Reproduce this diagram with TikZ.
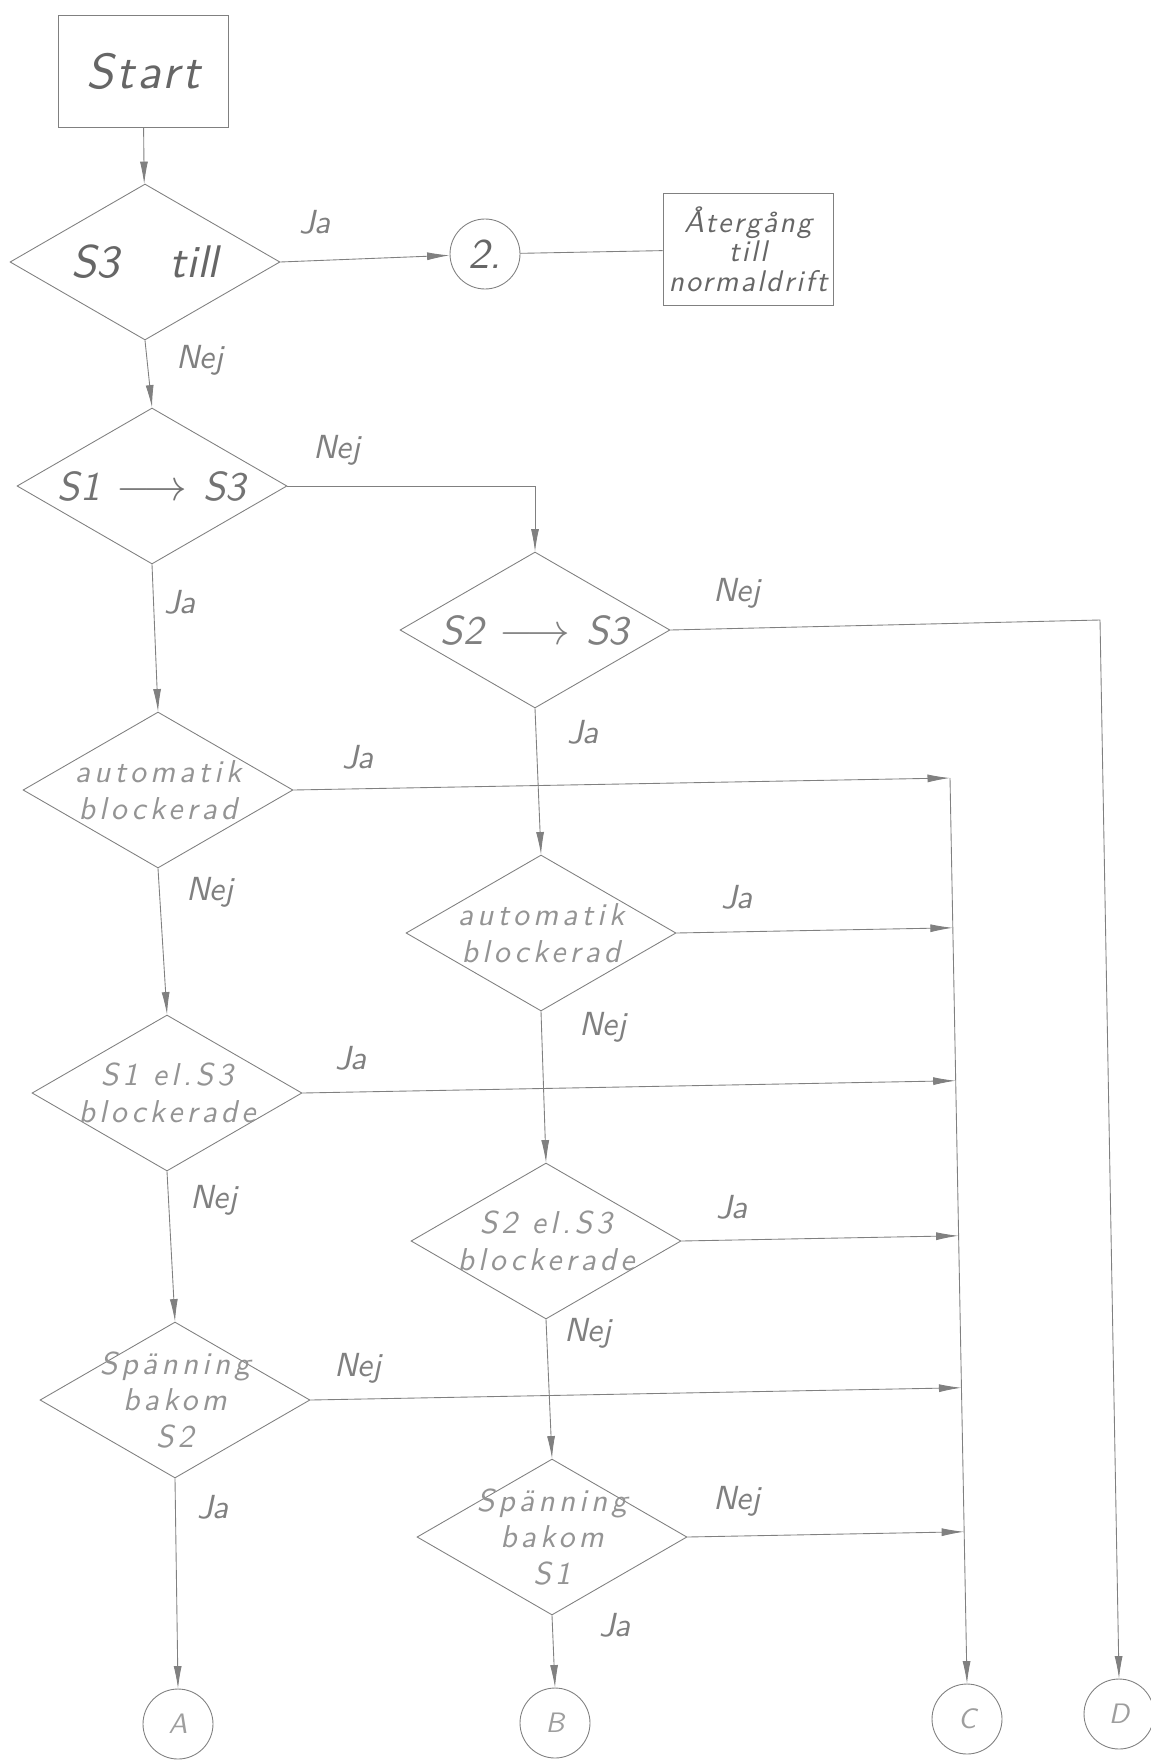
\documentclass[tikz,border=0pt]{standalone}
\usepackage{fontspec}
\newfontfamily\hand{lmsans10-oblique.otf}
\usetikzlibrary{arrows.meta,shapes.geometric,calc}

\begin{document}
\begin{tikzpicture}[x=0.02cm, y=-0.02cm, font=\hand, >={Latex[length=4.5mm,width=1.6mm]},
wire/.style={draw=black!50, line width=0.5pt},
box/.style={wire, minimum width=3.4cm, minimum height=2.24cm, inner sep=0pt, align=center, text=black!60},
decision/.style={wire, diamond, aspect=1.73, minimum width=5.4cm, minimum height=3.12cm, inner sep=-6mm, align=center, text=black!42, font=\hand\fontsize{18}{21}\selectfont\addfontfeatures{LetterSpace=13}},
bigtext/.style={text=black!55, font=\hand\fontsize{23}{23}\selectfont},
conn/.style={wire, circle, minimum size=1.4cm, inner sep=0pt, text=black!38, font=\hand\fontsize{16}{16}\selectfont},
answer/.style={text=black!50, font=\hand\fontsize{19}{19}\selectfont}]
\useasboundingbox (0,0) rectangle (1151,1760);
\node[box, font=\hand\fontsize{28}{28}\selectfont\addfontfeatures{LetterSpace=6}] (start) at (143,71) {Start};
\node[decision, text=black!60, font=\hand\fontsize{26}{26}\selectfont] (s3on) at (145,262) {S3\hspace{1.1em}till};
\node[conn, text=black!60, font=\hand\fontsize{24}{24}\selectfont] (two) at (485,254) {2.};
\node[box, font=\hand\fontsize{17}{16.8}\selectfont\addfontfeatures{LetterSpace=7}] (back) at (748,249) {Återgång\\till\\normaldrift};
\node[decision, bigtext] (s1s3) at (152,486) {S1\hspace{0.4em}$\longrightarrow$\hspace{0.4em}S3};
\node[decision, bigtext, text=black!50] (s2s3) at (535,630) {S2\hspace{0.4em}$\longrightarrow$\hspace{0.4em}S3};
\node[decision] (autoa) at (158,790) {automatik\\blockerad};
\node[decision] (autob) at (541,933) {automatik\\blockerad};
\node[decision] (blocka) at (167,1093) {S1 el.S3\\blockerade};
\node[decision] (blockb) at (546,1241) {S2 el.S3\\blockerade};
\node[decision] (volta) at (175,1400) {Spänning\\bakom\\S2};
\node[decision] (voltb) at (552,1537) {Spänning\\bakom\\S1};
\node[conn] (ca) at (178,1724) {A};
\node[conn] (cb) at (555,1723) {B};
\node[conn] (cc) at (967,1719) {C};
\node[conn] (cd) at (1119,1714) {D};
\coordinate (ctop) at (950,778);
\coordinate (dtop) at (1100,620);
\node[answer] (ja1) at (315,222) {Ja};
\node[answer] (nej1) at (200,360) {Nej};
\node[answer] (nej2) at (337,450) {Nej};
\node[answer] (ja2) at (180,602) {Ja};
\node[answer] (nej3) at (737,593) {Nej};
\node[answer] (ja3) at (583,732) {Ja};
\node[answer] (ja4) at (358,757) {Ja};
\node[answer] (nej4) at (210,892) {Nej};
\node[answer] (ja5) at (737,897) {Ja};
\node[answer] (nej5) at (603,1027) {Nej};
\node[answer] (ja6) at (351,1058) {Ja};
\node[answer] (nej6) at (214,1200) {Nej};
\node[answer] (ja7) at (732,1207) {Ja};
\node[answer] (nej7) at (588,1333) {Nej};
\node[answer] (nej8) at (358,1368) {Nej};
\node[answer] (ja8) at (213,1507) {Ja};
\node[answer] (nej9) at (737,1501) {Nej};
\node[answer] (ja9) at (615,1625) {Ja};
\draw[wire, ->] (start) -- (s3on);
\draw[wire, ->] (s3on.east) -- (two);
\draw[wire] (two) -- (back);
\draw[wire, ->] (s3on.south) -- (s1s3.north);
\draw[wire, ->] (s1s3.east) -| (s2s3.north);
\draw[wire, ->] (s1s3.south) -- (autoa.north);
\draw[wire, ->] (autoa.south) -- (blocka.north);
\draw[wire, ->] (blocka.south) -- (volta.north);
\draw[wire, ->] (volta.south) -- (ca.north);
\draw[wire, ->] (s2s3.south) -- (autob.north);
\draw[wire, ->] (autob.south) -- (blockb.north);
\draw[wire, ->] (blockb.south) -- (voltb.north);
\draw[wire, ->] (voltb.south) -- (cb.north);
\draw[wire, ->] (s2s3.east) -- (dtop) -- (cd.north);
\draw[wire, ->] (autoa.east) -- (ctop);
\draw[wire, ->] (autob.east) -- ($(ctop)!(autob.east)!(cc.north)$);
\draw[wire, ->] (blocka.east) -- ($(ctop)!(blocka.east)!(cc.north)$);
\draw[wire, ->] (blockb.east) -- ($(ctop)!(blockb.east)!(cc.north)$);
\draw[wire, ->] (volta.east) -- ($(ctop)!(volta.east)!(cc.north)$);
\draw[wire, ->] (voltb.east) -- ($(ctop)!(voltb.east)!(cc.north)$);
\draw[wire, ->] (ctop) -- (cc.north);
\end{tikzpicture}
\end{document}
